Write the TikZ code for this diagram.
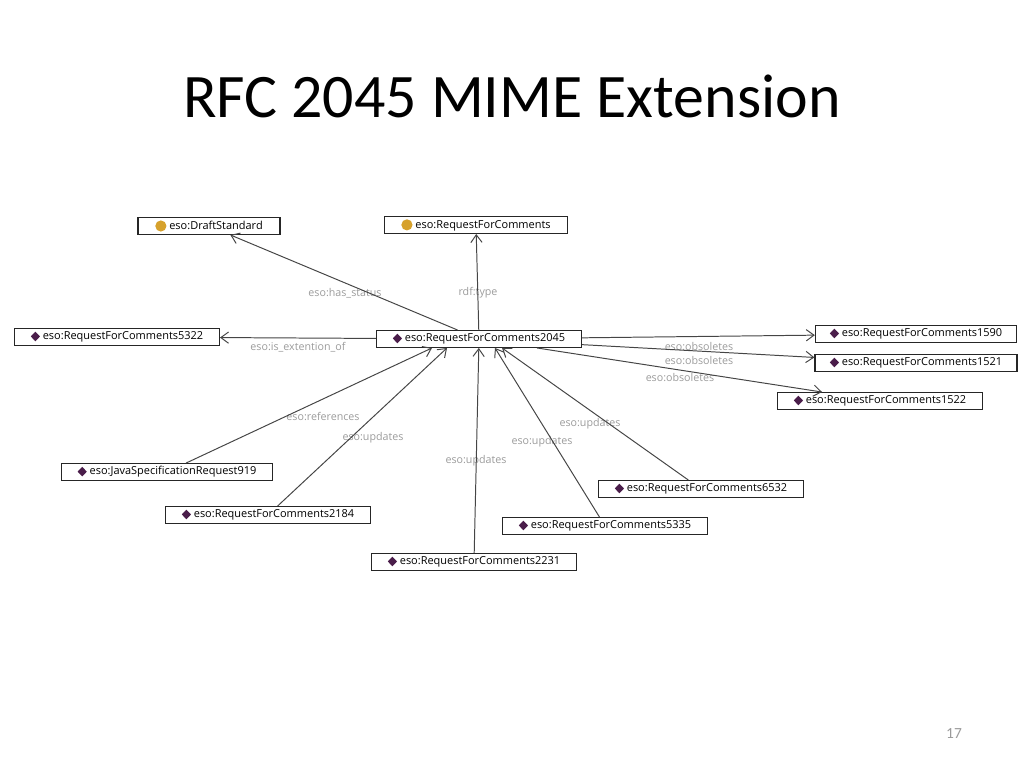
\documentclass[tikz,border=0pt]{standalone}
\usepackage{fontspec}
\setmainfont{Carlito}
\newfontfamily\boxfont{Open Sans}
\usetikzlibrary{arrows.meta,calc}
\definecolor{instcol}{HTML}{4A1D4A}
\definecolor{classcol}{HTML}{D6A12C}
\definecolor{relcol}{HTML}{9B9B9B}
\definecolor{linecol}{HTML}{454545}
\newcommand\instmark{\tikz[x=1cm,y=1cm,baseline=-0.55ex]\fill[instcol] (0,0.12) -- (0.115,0) -- (0,-0.12) -- (-0.115,0) -- cycle;}
\newcommand\classmark{\tikz[x=1cm,y=1cm,baseline=-0.55ex]\fill[classcol] (0,0) circle (0.14);}

\begin{document}
\begin{tikzpicture}[x=0.025cm, y=-0.025cm,
  title/.style={anchor=base, inner sep=0pt, font=\fontsize{44}{50}\selectfont},
  pagenum/.style={anchor=base, inner sep=0pt, text=relcol, font=\fontsize{11}{13}\selectfont},
  inst/.style={draw=black!85, line width=0.8pt, minimum width=5.12cm, minimum height=0.42cm, inner sep=1pt, font=\boxfont\fontsize{7.8}{8.5}\selectfont},
  rel/.style={text=relcol, inner sep=0pt, font=\boxfont\fontsize{7.6}{8.5}\selectfont},
  link/.style={draw=linecol, line width=0.7pt, -{Straight Barb[length=5.5pt,width=8pt]}}]
\useasboundingbox (0,0) rectangle (1024,768);

% title and page number
\node[title] (title) at (512,118) {RFC 2045 MIME Extension};
\node[pagenum] (pnum) at (954,738) {17};

% individuals and classes
\node[inst] (rfc2045) at (479,339) {\instmark\ eso:RequestForComments2045};
\node[inst, minimum width=3.55cm] (draft) at (209,226) {\classmark\ eso:DraftStandard};
\node[inst, minimum width=4.58cm] (rfc) at (476,225) {\classmark\ eso:RequestForComments};
\node[inst] (rfc5322) at (117,337) {\instmark\ eso:RequestForComments5322};
\node[inst, minimum width=5.03cm] (rfc1590) at (916,334) {\instmark\ eso:RequestForComments1590};
\node[inst, minimum width=5.05cm] (rfc1521) at (916,363) {\instmark\ eso:RequestForComments1521};
\node[inst] (rfc1522) at (880,401) {\instmark\ eso:RequestForComments1522};
\node[inst, minimum width=5.28cm] (jsr919) at (167,472) {\instmark\ eso:JavaSpecificationRequest919};
\node[inst] (rfc2184) at (268,515) {\instmark\ eso:RequestForComments2184};
\node[inst] (rfc2231) at (474,562) {\instmark\ eso:RequestForComments2231};
\node[inst] (rfc6532) at (701,489) {\instmark\ eso:RequestForComments6532};
\node[inst] (rfc5335) at (605,526) {\instmark\ eso:RequestForComments5335};

% property labels
\node[rel] (l-status) at (345,293) {eso:has\_status};
\node[rel] (l-type) at (478,293) {rdf:type};
\node[rel] (l-ext) at (298,347) {eso:is\_extention\_of};
\node[rel] (l-obs1) at (699,347) {eso:obsoletes};
\node[rel] (l-obs2) at (699,361) {eso:obsoletes};
\node[rel] (l-obs3) at (680,378) {eso:obsoletes};
\node[rel] (l-refs) at (323,416) {eso:references};
\node[rel] (l-upd1) at (373,438) {eso:updates};
\node[rel] (l-upd2) at (476,461) {eso:updates};
\node[rel] (l-upd3) at (542,442) {eso:updates};
\node[rel] (l-upd4) at (590,424) {eso:updates};

% edges
\draw[link] (rfc2045) -- (draft);
\draw[link] (rfc2045) -- (rfc);
\draw[link] (rfc2045) -- (rfc5322);
\draw[link] (rfc2045) -- (rfc1590);
\draw[link] (rfc2045) -- (rfc1521);
\draw[link] (rfc2045) -- (rfc1522);
\draw[link] (jsr919) -- ($(rfc2045.south)+(-47,0)$);
\draw[link] (rfc2184) -- ($(rfc2045.south)+(-32,0)$);
\draw[link] (rfc2231) -- (rfc2045);
\draw[link] (rfc5335) -- ($(rfc2045.south)+(16,0)$);
\draw[link] (rfc6532) -- ($(rfc2045.south)+(23,0)$);
\end{tikzpicture}
\end{document}
